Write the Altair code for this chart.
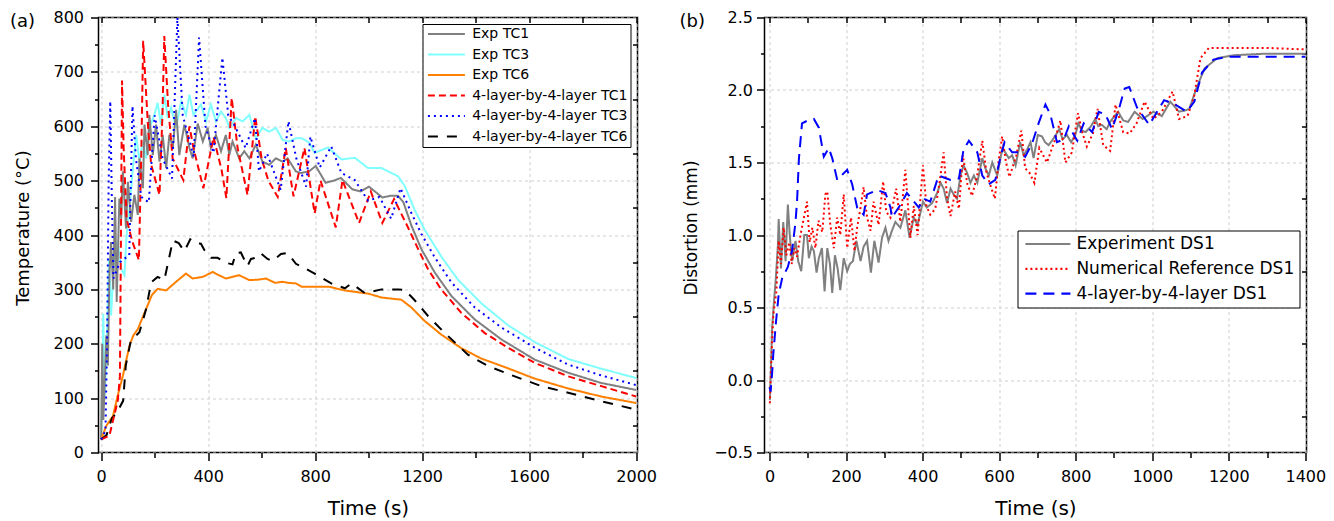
import altair as alt
import pandas as pd

# ---------------- Panel (a): temperature histories (t [s], T [degC]) ----------------
EXP_TC1 = [(0,24),(4,200),(8,60),(12,110),(19,215),(25,160),(31,330),(37,387),(45,300),(52,470),(58,277),(68,467),(75,430),(81,517),(93,412),(100,498),(112,424),(124,474),(137,437),(143,541),(156,486),(162,603),(174,547),(180,621),(193,547),(205,603),(218,535),(230,584),(243,523),(255,584),(268,560),(280,630),(292,547),(311,603),(330,560),(342,541),(361,605),(380,572),(398,597),(410,560),(429,584),(448,554),(466,584),(479,547),(491,572),(516,541),(535,554),(554,541),(578,566),(603,535),(628,529),(653,541),(678,535),(697,541),(728,517),(746,514),(777,517),(802,527),(839,496),(870,500),(896,505),(939,484),(970,480),(1001,489),(1051,469),(1080,472),(1110,472),(1130,460),(1160,417),(1197,374),(1247,331),(1309,288),(1396,245),(1496,208),(1620,171),(1744,147),(1868,128),(2000,115)]
EXP_TC3 = [(0,24),(5,150),(8,255),(12,100),(19,160),(29,357),(37,252),(50,375),(62,387),(75,338),(87,326),(95,400),(106,449),(118,520),(131,584),(143,535),(156,572),(168,541),(180,597),(199,621),(211,643),(224,603),(236,658),(249,615),(261,634),(280,597),(299,646),(317,621),(330,658),(345,621),(373,640),(392,609),(410,640),(429,609),(448,627),(466,615),(479,597),(504,615),(529,609),(554,621),(578,578),(603,597),(628,590),(653,597),(678,575),(703,572),(728,578),(749,578),(777,570),(798,551),(848,561),(898,539),(948,542),(998,523),(1048,523),(1110,508),(1135,490),(1172,446),(1210,409),(1272,360),(1335,317),(1422,274),(1521,234),(1621,203),(1746,172),(1870,154),(2000,137)]
EXP_TC6 = [(0,24),(19,49),(44,67),(62,105),(81,141),(106,197),(120,215),(137,227),(168,264),(190,290),(211,301),(243,298),(280,314),(317,329),(342,320),(380,323),(417,332),(440,326),(466,320),(516,326),(554,317),(590,318),(616,320),(650,312),(678,314),(700,312),(728,311),(749,305),(802,305),(850,305),(911,298),(1000,292),(1048,285),(1122,281),(1159,267),(1209,242),(1271,217),(1346,192),(1420,173),(1520,155),(1620,136),(1744,118),(1869,103),(2000,91)]
NUM_TC1 = [(0,24),(31,31),(38,46),(62,95),(70,140),(74,400),(78,684),(84,560),(95,430),(115,390),(141,354),(150,550),(157,757),(175,600),(187,529),(218,474),(229,620),(236,766),(250,640),(267,541),(307,501),(330,600),(345,560),(382,486),(420,580),(450,520),(468,468),(488,652),(510,560),(547,474),(576,618),(600,540),(625,500),(660,470),(690,560),(719,471),(760,560),(798,440),(820,500),(877,414),(902,501),(964,422),(1008,480),(1051,422),(1095,466),(1144,417),(1185,374),(1222,337),(1271,300),(1346,257),(1433,220),(1520,193),(1620,165),(1746,140),(1870,122),(2000,103)]
NUM_TC3 = [(0,24),(16,40),(22,200),(28,500),(34,646),(40,460),(46,320),(70,350),(105,363),(117,637),(130,540),(150,470),(178,460),(200,620),(230,540),(265,504),(285,800),(305,620),(346,544),(366,763),(390,600),(420,551),(453,726),(475,620),(500,600),(540,560),(575,615),(590,517),(620,550),(671,483),(700,609),(730,540),(766,489),(782,581),(817,524),(860,563),(898,514),(948,501),(998,463),(1040,470),(1084,430),(1119,486),(1160,440),(1197,402),(1247,359),(1309,313),(1396,267),(1496,230),(1620,193),(1744,162),(1868,142),(2000,124)]
NUM_TC6 = [(0,24),(20,32),(40,63),(57,72),(82,95),(92,160),(111,206),(143,221),(168,264),(187,313),(211,323),(236,317),(268,390),(290,385),(311,370),(333,392),(350,385),(373,384),(386,372),(411,358),(435,358),(473,348),(491,346),(504,367),(522,368),(547,343),(560,356),(585,359),(597,366),(622,356),(641,352),(672,365),(697,367),(728,347),(749,342),(798,329),(860,311),(911,302),(936,311),(986,293),(1048,300),(1110,300),(1135,299),(1172,280),(1222,251),(1284,220),(1371,180),(1446,159),(1546,140),(1646,122),(1746,110),(1870,94),(2000,79)]

NAMES_A = ["Exp TC1", "Exp TC3", "Exp TC6",
           "4-layer-by-4-layer TC1", "4-layer-by-4-layer TC3", "4-layer-by-4-layer TC6"]
COLORS_A = ["#808080", "#80FFFF", "#FF8000", "#FF0000", "#0000FF", "#000000"]
DASHES_A = [[1, 0], [1, 0], [1, 0], [7, 4], [2, 4], [10, 9]]
# drawing order (first drawn = bottom)
ORDER_A = [("Exp TC3", EXP_TC3), ("Exp TC1", EXP_TC1), ("Exp TC6", EXP_TC6),
           ("4-layer-by-4-layer TC6", NUM_TC6), ("4-layer-by-4-layer TC1", NUM_TC1),
           ("4-layer-by-4-layer TC3", NUM_TC3)]

# ---------------- Panel (b): distortion histories (t [s], d [mm]) ----------------
EXP_DS1 = [(1,-0.14),(4,0.10),(7,0.36),(12,0.55),(16,0.68),(22,0.93),(24,1.11),(30,0.77),(36,1.09),(42,0.82),(48,1.21),(53,1.00),(59,0.82),(68,0.96),(75,0.82),(83,0.75),(91,1.00),(98,1.00),(103,0.84),(110,0.92),(116,0.89),(123,0.74),(129,0.84),(137,0.91),(144,0.61),(151,0.91),(158,0.80),(164,0.60),(171,0.86),(178,0.77),(185,0.62),(194,0.84),(203,0.75),(210,0.80),(218,0.82),(227,0.96),(238,0.82),(246,0.92),(255,0.96),(265,0.74),(274,0.96),(285,0.81),(294,0.98),(303,1.05),(311,0.96),(320,1.03),(329,1.09),(342,1.05),(355,1.17),(366,0.98),(377,1.12),(387,1.07),(401,1.23),(411,1.19),(425,1.22),(438,1.29),(447,1.36),(455,1.32),(464,1.22),(473,1.32),(481,1.28),(490,1.25),(499,1.41),(507,1.48),(516,1.43),(525,1.36),(534,1.41),(543,1.36),(556,1.53),(564,1.46),(573,1.41),(582,1.50),(595,1.41),(608,1.59),(616,1.57),(625,1.53),(634,1.55),(643,1.48),(655,1.64),(664,1.55),(673,1.59),(682,1.64),(690,1.53),(701,1.69),(712,1.68),(720,1.64),(729,1.62),(738,1.65),(748,1.69),(757,1.73),(766,1.66),(777,1.69),(788,1.64),(799,1.69),(807,1.77),(816,1.72),(826,1.71),(840,1.75),(851,1.80),(859,1.75),(868,1.76),(881,1.73),(890,1.78),(901,1.82),(911,1.85),(924,1.79),(937,1.78),(954,1.85),(975,1.80),(1003,1.85),(1025,1.82),(1047,1.92),(1070,1.85),(1087,1.86),(1097,1.87),(1115,2.01),(1137,2.15),(1170,2.22),(1214,2.24),(1292,2.25),(1400,2.25)]
NUM_DS1 = [(1,-0.16),(5,0.15),(10,0.45),(18,0.61),(24,0.96),(30,0.80),(37,1.05),(44,0.86),(52,0.95),(58,0.80),(65,0.91),(72,0.85),(81,1.00),(90,1.12),(98,1.23),(105,0.95),(112,1.05),(120,0.91),(128,1.10),(138,1.02),(146,1.28),(151,1.30),(159,1.07),(168,0.91),(177,1.12),(185,1.00),(194,1.28),(203,0.91),(213,1.12),(222,0.89),(229,1.05),(238,1.19),(246,1.33),(255,1.12),(264,1.03),(272,1.23),(285,1.07),(297,1.37),(305,1.16),(316,1.12),(331,1.32),(342,1.09),(355,1.45),(368,0.98),(377,1.20),(387,1.00),(401,1.48),(410,1.20),(420,1.14),(433,1.18),(442,1.32),(455,1.57),(464,1.25),(473,1.13),(485,1.30),(495,1.18),(505,1.55),(517,1.35),(529,1.27),(542,1.40),(556,1.65),(567,1.43),(580,1.32),(589,1.25),(598,1.50),(608,1.68),(618,1.50),(627,1.40),(645,1.55),(658,1.72),(668,1.46),(679,1.43),(692,1.36),(705,1.60),(715,1.55),(725,1.50),(745,1.65),(760,1.79),(773,1.50),(790,1.57),(806,1.84),(818,1.70),(829,1.61),(845,1.70),(857,1.87),(872,1.62),(890,1.58),(904,1.90),(924,1.71),(941,1.70),(959,1.77),(980,1.92),(1003,1.80),(1025,1.85),(1053,1.99),(1070,1.80),(1092,1.82),(1109,1.95),(1126,2.22),(1148,2.29),(1203,2.29),(1300,2.29),(1400,2.28)]
LAY_DS1 = [(0,-0.05),(3,-0.08),(7,0.05),(10,0.18),(17,0.40),(24,0.59),(33,0.70),(48,0.78),(59,0.89),(68,1.09),(72,1.23),(77,1.53),(85,1.77),(100,1.79),(116,1.80),(129,1.74),(142,1.54),(155,1.60),(164,1.53),(177,1.38),(203,1.45),(216,1.35),(229,1.19),(246,1.14),(255,1.28),(281,1.31),(303,1.29),(316,1.19),(320,1.12),(340,1.20),(359,1.29),(390,1.19),(403,1.25),(420,1.23),(442,1.41),(473,1.38),(495,1.39),(507,1.59),(521,1.65),(543,1.57),(556,1.41),(573,1.35),(590,1.38),(603,1.53),(614,1.64),(634,1.57),(651,1.57),(668,1.54),(686,1.63),(703,1.77),(721,1.90),(734,1.83),(743,1.73),(751,1.64),(769,1.66),(782,1.75),(804,1.65),(821,1.77),(843,1.71),(860,1.85),(878,1.83),(895,1.73),(913,1.87),(928,2.01),(940,2.02),(960,1.88),(992,1.76),(1031,1.93),(1060,1.90),(1090,1.85),(1110,1.92),(1130,2.12),(1160,2.21),(1200,2.23),(1300,2.23),(1400,2.23)]

NAMES_B = ["Experiment DS1", "Numerical Reference DS1", "4-layer-by-4-layer DS1"]
COLORS_B = ["#808080", "#FF0000", "#0000FF"]
DASHES_B = [[1, 0], [2, 3], [11, 7]]
ORDER_B = [("Experiment DS1", EXP_DS1), ("Numerical Reference DS1", NUM_DS1),
           ("4-layer-by-4-layer DS1", LAY_DS1)]

FONT = "DejaVu Sans"
LINE_SYMBOL = "M-4,0H4"   # horizontal stroke, 8 units long (scaled by sqrt(size)/2)


def long_df(order, key):
    frames = []
    for i, (name, pts) in enumerate(order):
        d = pd.DataFrame(pts, columns=["t", "v"])
        d[key] = name
        d["k"] = i
        frames.append(d)
    return pd.concat(frames, ignore_index=True)


def panel(df, key, names, colors, dashes, legend, xscale, yscale,
          x_axes, y_axes, label, label_dx, w, h):
    base = alt.Chart(df)
    lines = base.mark_line(strokeWidth=2, clip=True).encode(
        x=alt.X("t:Q", scale=xscale, axis=x_axes[0]),
        y=alt.Y("v:Q", scale=yscale, axis=y_axes[0]),
        color=alt.Color(f"{key}:N", scale=alt.Scale(domain=names, range=colors), legend=legend),
        strokeDash=alt.StrokeDash(f"{key}:N", scale=alt.Scale(domain=names, range=dashes), legend=legend),
        order=alt.Order("t:Q"),
    )
    minor = base.mark_point(opacity=0, size=1).encode(
        x=alt.X("t:Q", scale=xscale, axis=x_axes[1], title=None),
        y=alt.Y("v:Q", scale=yscale, axis=y_axes[1], title=None),
    )
    mirror = base.mark_point(opacity=0, size=1).encode(
        x=alt.X("t:Q", scale=xscale, axis=x_axes[2], title=None),
        y=alt.Y("v:Q", scale=yscale, axis=y_axes[2], title=None),
    )
    return alt.layer(lines, minor, mirror).resolve_axis(
        x="independent", y="independent"
    ).properties(
        width=w, height=h,
        title=alt.TitleParams(text=label, anchor="start", frame="group", orient="top",
                              dx=label_dx, dy=35, offset=0, baseline="alphabetic",
                              fontSize=18, font=FONT, fontWeight="normal", color="black"),
    )


GRID = dict(grid=True, gridDash=[3, 3], gridColor="#cfcfcf", gridWidth=1)

# ---- panel (a) axes ----
xa = [
    alt.Axis(orient="bottom", values=[0, 400, 800, 1200, 1600, 2000], format="d", tickSize=8,
             labelPadding=21, labelBaseline="alphabetic", title="Time (s)", titleFontSize=20,
             titleY=62, titleBaseline="alphabetic", **GRID),
    alt.Axis(orient="bottom", values=[200, 600, 1000, 1400, 1800], tickSize=5, labels=False, grid=False),
    alt.Axis(orient="top", values=list(range(0, 2001, 200)), tickSize=5, offset=-5, labels=False, grid=False),
]
ya = [
    alt.Axis(orient="left", values=list(range(0, 801, 100)), format="d", tickSize=8, labelPadding=7,
             title="Temperature (°C)", titleFontSize=18, titleX=-70, titleY=210, titleAngle=270,
             titleBaseline="alphabetic", **GRID),
    alt.Axis(orient="left", values=list(range(50, 800, 100)), tickSize=4, labels=False, grid=False),
    alt.Axis(orient="right", values=list(range(50, 800, 100)), tickSize=5, offset=-5, labels=False, grid=False),
]
# symbol length 37 px: 4*sqrt(size) = 37
leg_a = alt.Legend(title=None, orient="none", legendX=324, legendY=6.5, symbolType=LINE_SYMBOL,
                   symbolSize=85.6, symbolStrokeWidth=2, symbolOffset=13.9,
                   labelFont=FONT, labelFontSize=14,
                   labelColor="black", padding=3, rowPadding=6.5, labelOffset=18.8,
                   strokeColor="black", fillColor="white", cornerRadius=0, labelLimit=400)

left = panel(long_df(ORDER_A, "sa"), "sa", NAMES_A, COLORS_A, DASHES_A, leg_a,
             alt.Scale(domain=[-10, 2005], nice=False, zero=False),
             alt.Scale(domain=[0, 800], nice=False, zero=False),
             xa, ya, "(a)", -88.5, 539, 435)

# ---- panel (b) axes ----
xb = [
    alt.Axis(orient="bottom", values=list(range(0, 1401, 200)), format="d", tickSize=8,
             labelPadding=21, labelBaseline="alphabetic", title="Time (s)", titleFontSize=20,
             titleY=62, titleBaseline="alphabetic", **GRID),
    alt.Axis(orient="bottom", values=list(range(100, 1400, 200)), tickSize=5, labels=False, grid=False),
    alt.Axis(orient="top", values=list(range(0, 1401, 100)), tickSize=5, offset=-5, labels=False, grid=False),
]
yb = [
    alt.Axis(orient="left", values=[-0.5, 0, 0.5, 1.0, 1.5, 2.0, 2.5], format=".1f", tickSize=8,
             labelPadding=4, title="Distortion (mm)", titleFontSize=17, titleX=-68, titleY=210,
             titleAngle=270, titleBaseline="alphabetic", **GRID),
    alt.Axis(orient="left", values=[-0.25, 0.25, 0.75, 1.25, 1.75, 2.25], tickSize=4, labels=False, grid=False),
    alt.Axis(orient="right", values=[-0.25, 0.25, 0.75, 1.25, 1.75, 2.25], tickSize=5, offset=-5,
             labels=False, grid=False),
]
# symbol length 45 px: 4*sqrt(size) = 45
leg_b = alt.Legend(title=None, orient="none", legendX=253, legendY=213, symbolType=LINE_SYMBOL,
                   symbolSize=126.6, symbolStrokeWidth=2.2, symbolOffset=16.9,
                   labelFont=FONT, labelFontSize=17,
                   labelColor="black", padding=5, rowPadding=6.8, labelOffset=20,
                   strokeColor="black", fillColor="white", cornerRadius=0, labelLimit=400)

right = panel(long_df(ORDER_B, "sb"), "sb", NAMES_B, COLORS_B, DASHES_B, leg_b,
              alt.Scale(domain=[-13, 1403], nice=False, zero=False),
              alt.Scale(domain=[-0.5, 2.5], nice=False, zero=False),
              xb, yb, "(b)", -85, 542, 435)

chart = alt.hconcat(left, right, spacing=127, bounds="flush").resolve_scale(
    color="independent", strokeDash="independent"
).resolve_legend(
    color="independent", strokeDash="independent"
).properties(
    padding={"left": 8.5, "top": 8.5, "right": 0, "bottom": 0}
).configure_axis(
    labelFont=FONT, labelFontSize=16, labelColor="black", titleFont=FONT,
    titleFontWeight="normal", titleColor="black", tickColor="black", tickWidth=1.5,
    domain=False
).configure_view(
    stroke="black", strokeWidth=1.5
)

chart.save("out.html", embed_options={"renderer": "svg", "actions": False})
